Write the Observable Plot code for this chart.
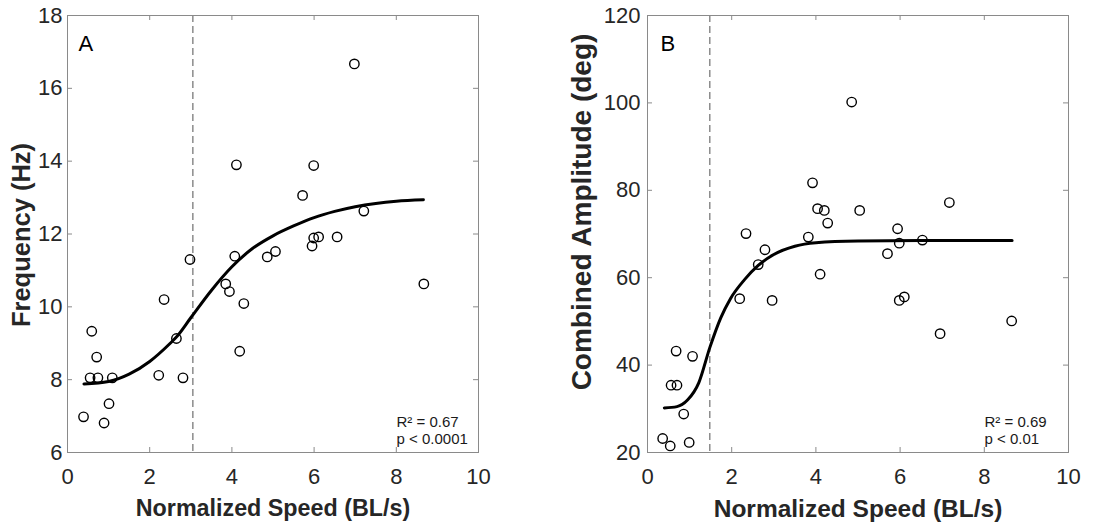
<!DOCTYPE html>
<html>
<head>
<meta charset="utf-8">
<script src="https://cdn.jsdelivr.net/npm/d3@7"></script>
<script src="https://cdn.jsdelivr.net/npm/@observablehq/plot@0.6"></script>
<style>
  html, body { margin: 0; padding: 0; background: #fff; }
  #wrap { display: flex; flex-direction: row; width: 1107px; height: 527px; color: #262626; }
  #wrap svg { display: block; }
</style>
</head>
<body>
<div id="wrap"><div id="pa"></div><div id="pb"></div></div>
<script>
// ---- Data ----
const speed = [0.39, 0.55, 0.59, 0.71, 0.74, 0.89, 1.01, 1.09, 2.22, 2.35, 2.65, 2.81, 2.98, 3.85, 3.94,
               4.07, 4.11, 4.19, 4.29, 4.86, 5.06, 5.72, 5.95, 5.99, 5.99, 6.11, 6.56, 6.98, 7.21, 8.67];
const frequency = [6.98, 8.05, 9.33, 8.62, 8.05, 6.81, 7.34, 8.05, 8.12, 10.2, 9.13, 8.05, 11.3, 10.63, 10.42,
                   11.39, 13.9, 8.78, 10.09, 11.37, 11.52, 13.06, 11.67, 13.88, 11.89, 11.92, 11.92, 16.67, 12.63, 10.63];

const speedB = [0.36, 0.54, 0.56, 0.68, 0.70, 0.86, 0.99, 1.07, 2.19, 2.34, 2.63, 2.79, 2.96, 3.82, 3.92,
                4.04, 4.10, 4.20, 4.28, 4.85, 5.04, 5.70, 5.94, 5.98, 5.98, 6.10, 6.53, 6.95, 7.17, 8.65];
const amplitude = [23.2, 21.5, 35.4, 43.2, 35.4, 28.8, 22.3, 42.0, 55.2, 70.1, 63.0, 66.4, 54.8, 69.3, 81.7,
                   75.8, 60.8, 75.4, 72.5, 100.2, 75.4, 65.5, 71.2, 67.9, 54.8, 55.6, 68.6, 47.2, 77.2, 50.1];

// fitted curves
const fitAx = [0.40, 1.00, 1.50, 2.00, 2.50, 2.65, 3.00, 3.50, 4.00, 4.50, 5.00, 5.50, 6.00, 6.50, 7.00, 7.50, 8.00, 8.66];
const fitAy = [7.88, 7.95, 8.15, 8.50, 9.00, 9.17, 9.70, 10.45, 11.10, 11.60, 11.95, 12.22, 12.45, 12.62, 12.75, 12.84, 12.90, 12.94];
const fitBx = [0.40, 0.70, 0.95, 1.22, 1.48, 1.74, 1.97, 2.30, 2.63, 3.00, 3.50, 4.00, 5.00, 6.50, 8.66];
const fitBy = [30.2, 30.5, 32.0, 36.0, 44.0, 50.8, 55.2, 59.5, 62.8, 65.3, 67.2, 68.0, 68.4, 68.5, 68.5];

const thresholdA = 3.05;
const thresholdB = 1.48;

const xTicks = [0, 2, 4, 6, 8, 10];
const yTicksA = [6, 8, 10, 12, 14, 16, 18];
const yTicksB = [20, 40, 60, 80, 100, 120];

const statsA = "R² = 0.67\np < 0.0001";
const statsB = "R² = 0.69\np < 0.01";

// ---- Build ----
const FONT = "'Liberation Sans', Arial, Helvetica, sans-serif";
const FRAME = "#8a8a8a";

function panel(o) {
  const pts = o.xs.map((x, i) => ({x, y: o.ys[i]}));
  const fit = o.fx.map((x, i) => ({x, y: o.fy[i]}));
  const fw = o.width - o.ml - o.mr;
  const fh = o.height - o.mt - o.mb;
  return Plot.plot({
    width: o.width, height: o.height,
    marginLeft: o.ml, marginRight: o.mr, marginTop: o.mt, marginBottom: o.mb,
    style: {fontFamily: FONT, fontSize: "22px", background: "white", color: "#262626"},
    x: {domain: [0, 10]},
    y: {domain: o.ydomain},
    marks: [
      Plot.ruleX([o.threshold], {stroke: "#7a7a7a", strokeWidth: 1.3, strokeDasharray: "7,4"}),
      Plot.ruleX(xTicks, {insetTop: fh - 5, stroke: FRAME}),
      Plot.ruleX(xTicks, {insetBottom: fh - 5, stroke: FRAME}),
      Plot.ruleY(o.yticks, {insetRight: fw - 5, stroke: FRAME}),
      Plot.ruleY(o.yticks, {insetLeft: fw - 5, stroke: FRAME}),
      Plot.frame({stroke: FRAME, strokeWidth: 1}),
      Plot.axisX({ticks: xTicks, tickSize: 0, tickPadding: 16, label: null, fontSize: 22}),
      Plot.axisY({ticks: o.yticks, tickSize: 0, tickPadding: o.ypad, label: null, fontSize: 22}),
      Plot.line(fit, {x: "x", y: "y", stroke: "black", strokeWidth: 3, curve: "monotone-x"}),
      Plot.dot(pts, {x: "x", y: "y", r: 4.7, stroke: "black", strokeWidth: 1.4, fill: "none"}),
      Plot.text([o.letter], {frameAnchor: "top-left", textAnchor: "start", lineAnchor: "top", dx: o.ldx, dy: 20, fontSize: 22, fill: "black"}),
      Plot.text([o.stats], {frameAnchor: "bottom-right", textAnchor: "start", lineAnchor: "bottom", dx: o.sdx, dy: -9, fontSize: 15, lineHeight: 1.1, fill: "#1a1a1a"}),
      Plot.text([o.xlabel], {frameAnchor: "bottom", textAnchor: "middle", lineAnchor: "top", dy: 47, fontSize: o.xfs, fontWeight: "bold"}),
      Plot.text([o.ylabel], {frameAnchor: "left", textAnchor: "middle", lineAnchor: "middle", rotate: -90, dx: o.ydx, dy: o.ydy, fontSize: o.yfs, fontWeight: "bold"})
    ]
  });
}

document.getElementById("pa").append(panel({
  width: 560, height: 527, ml: 67, mr: 82, mt: 15, mb: 75,
  xs: speed, ys: frequency, fx: fitAx, fy: fitAy, threshold: thresholdA,
  ydomain: [6, 18], yticks: yTicksA, ypad: 5, letter: "A", ldx: 11, stats: statsA, sdx: -82,
  xlabel: "Normalized Speed (BL/s)", xfs: 23.3, ylabel: "Frequency (Hz)", yfs: 25.5, ydx: -46, ydy: 1
}));
document.getElementById("pb").append(panel({
  width: 547, height: 527, ml: 87, mr: 39, mt: 15, mb: 75,
  xs: speedB, ys: amplitude, fx: fitBx, fy: fitBy, threshold: thresholdB,
  ydomain: [20, 120], yticks: yTicksB, ypad: 7, letter: "B", ldx: 13, stats: statsB, sdx: -84,
  xlabel: "Normalized Speed (BL/s)", xfs: 24.5, ylabel: "Combined Amplitude (deg)", yfs: 28, ydx: -65, ydy: -22
}));
</script>
</body>
</html>
